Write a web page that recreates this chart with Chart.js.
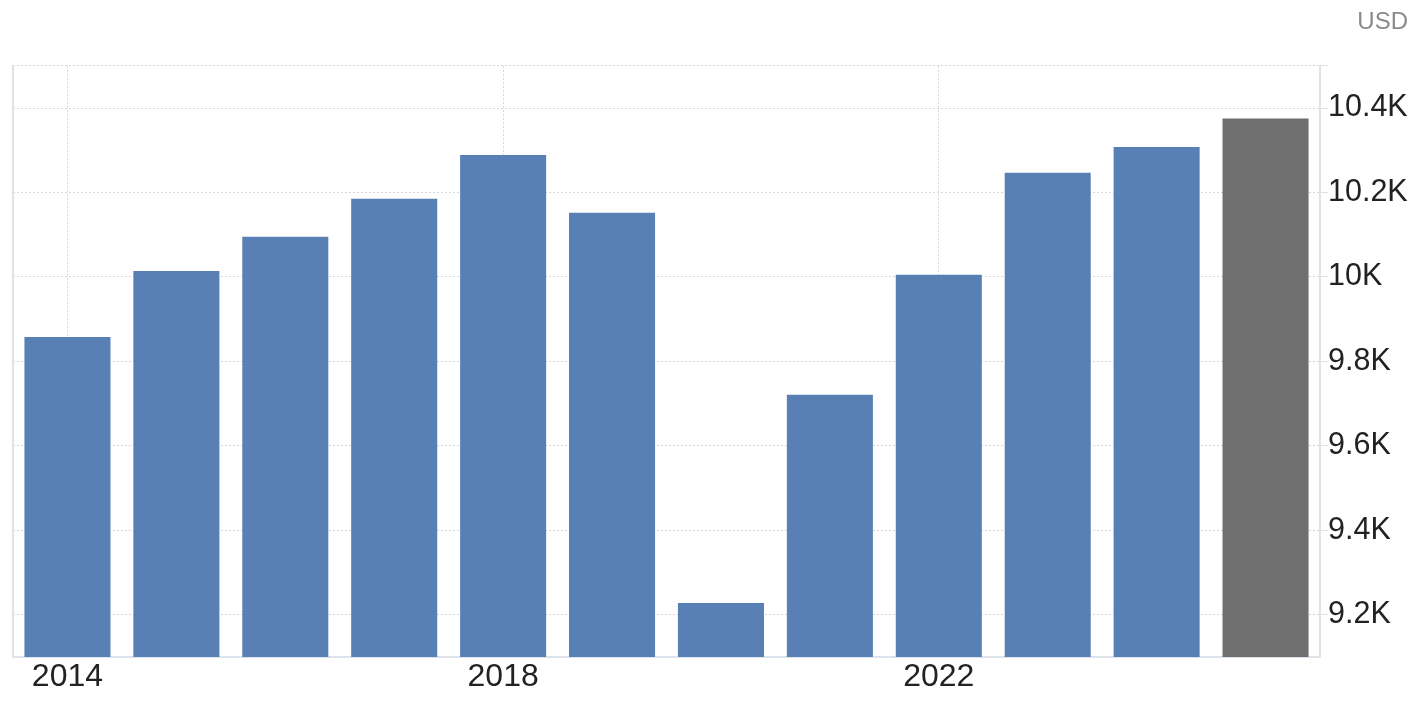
<!DOCTYPE html>
<html>
<head>
<meta charset="utf-8">
<script src="https://cdn.jsdelivr.net/npm/chart.js@4/dist/chart.umd.min.js"></script>
<style>
  html, body { margin: 0; padding: 0; background: #fff; }
  #wrap { width: 1420px; height: 710px; }
</style>
</head>
<body>
<div id="wrap"><canvas id="myChart" width="1420" height="710"></canvas></div>
<script>
const years = ["2014", "2015", "2016", "2017", "2018", "2019", "2020", "2021", "2022", "2023", "2024", "2025"];
const gdpValues = [9858, 10014, 10095, 10185, 10289, 10152, 9228, 9721, 10005, 10247, 10308, 10375];
const barColors = ["#5880b5", "#5880b5", "#5880b5", "#5880b5", "#5880b5", "#5880b5", "#5880b5", "#5880b5", "#5880b5", "#5880b5", "#5880b5", "#6f6f6f"];
const yTickValues = [9200, 9400, 9600, 9800, 10000, 10200, 10400, 10500];
const yTickLabels = ["9.2K", "9.4K", "9.6K", "9.8K", "10K", "10.2K", "10.4K", ""];

const fontFamily = "'Liberation Sans', Arial, Helvetica, sans-serif";
const gridColor = "#d6d6d6";

const ctx = document.getElementById("myChart").getContext("2d");

const chart = new Chart(ctx, {
  type: "bar",
  data: {
    labels: years,
    datasets: [
      {
        label: "USD",
        data: gdpValues,
        backgroundColor: barColors,
        barPercentage: 0.79,
        categoryPercentage: 1,
        yAxisID: "y",
      },
    ],
  },
  options: {
    responsive: false,
    animation: false,
    devicePixelRatio: 1,
    layout: {
      padding: { left: 13, right: 12, top: 0, bottom: 0 },
    },
    plugins: {
      legend: { display: false },
      tooltip: { enabled: false },
      title: {
        display: true,
        text: "USD",
        align: "end",
        color: "#8a8a8a",
        font: { family: fontFamily, size: 24, weight: "normal" },
        padding: { top: 8, bottom: 29 },
      },
    },
    scales: {
      x: {
        offset: true,
        grid: {
          offset: false,
          drawTicks: false,
          color: (c) => (c.index % 4 === 0 ? gridColor : "rgba(0,0,0,0)"),
        },
        border: { display: true, color: "#dde3ea", width: 2, dash: [2, 2] },
        ticks: {
          autoSkip: false,
          maxRotation: 0,
          padding: 1,
          color: "#222",
          font: { family: fontFamily, size: 32 },
          callback: function (value, index) {
            return index % 4 === 0 ? years[index] : "";
          },
        },
        afterFit: (scale) => {
          scale.height = 53;
        },
      },
      y: {
        position: "right",
        min: 9100,
        max: 10500,
        afterBuildTicks: (scale) => {
          scale.ticks = yTickValues.map((v) => ({ value: v }));
        },
        grid: {
          color: gridColor,
          tickColor: "#e2e2e2",
          tickLength: 8,
        },
        border: { display: true, color: "#e2e2e2", width: 2, dash: [2, 2] },
        ticks: {
          padding: 0,
          color: "#222",
          font: { family: fontFamily, size: 30.5 },
          callback: function (value, index) {
            return yTickLabels[index];
          },
        },
        afterFit: (scale) => {
          scale.width = 88;
        },
      },
      yLeft: {
        position: "left",
        grid: { display: false },
        border: { display: true, color: "#e2e2e2", width: 2 },
        ticks: { display: false },
        afterFit: (scale) => {
          scale.width = 0;
        },
      },
    },
  },
});
</script>
</body>
</html>
